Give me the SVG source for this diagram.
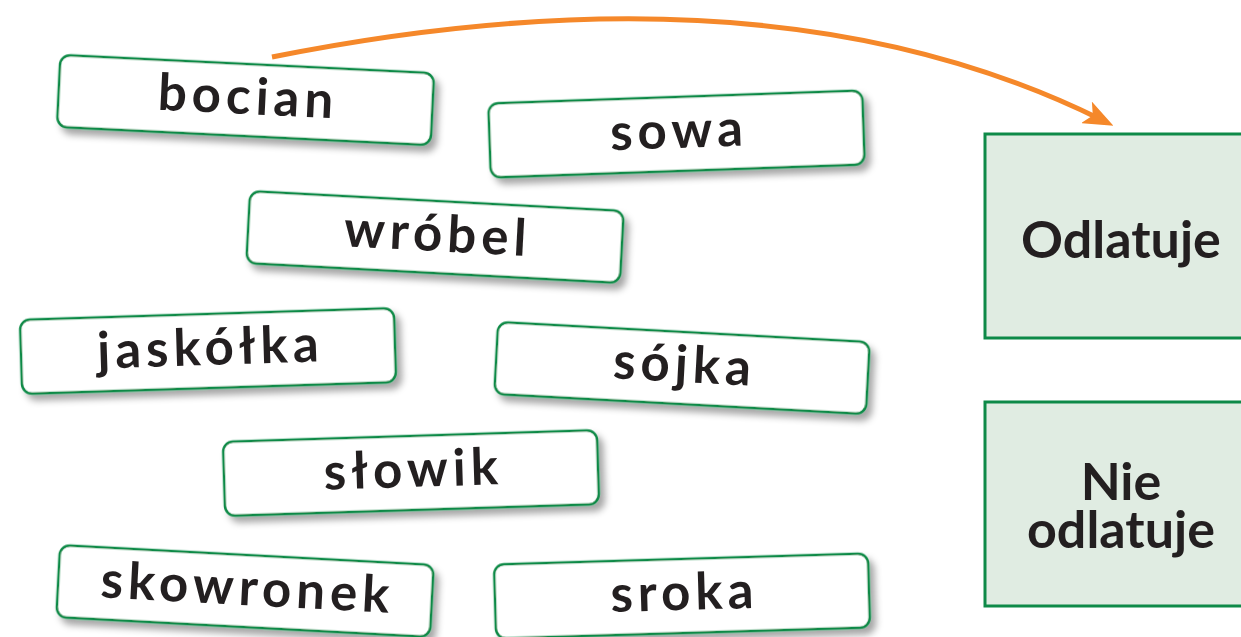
<svg xmlns="http://www.w3.org/2000/svg" width="1241" height="637" viewBox="0 0 1241 637">
  <defs>
    <filter id="shadow" x="-10%" y="-30%" width="125%" height="180%">
      <feDropShadow dx="5" dy="6" stdDeviation="3.5" flood-color="#000" flood-opacity="0.35"/>
    </filter>
    <marker id="arrow" viewBox="0 0 30 24" refX="15" refY="12" markerWidth="30" markerHeight="24" markerUnits="userSpaceOnUse" orient="auto">
      <path d="M30,12 L0,0 L7,12 L0,24 Z" fill="#f5882a"/>
    </marker>
    <style>
      .card rect { fill: #ffffff; stroke: #108a46; stroke-width: 2.5; filter: url(#shadow); }
      .card text { font-family: Lato, "Noto Sans", sans-serif; font-weight: 700; font-size: 51px; letter-spacing: 5px; fill: #231f20; text-anchor: middle; }
      .box rect { fill: #e0ece2; stroke: #0e8a48; stroke-width: 3; }
      .box text { font-family: Lato, "Noto Sans", sans-serif; font-weight: 700; font-size: 52px; fill: #231f20; text-anchor: middle; }
    </style>
  </defs>

  <g id="connectors">
    <path d="M272,57 Q772,-43 1100,119" fill="none" stroke="#f5882a" stroke-width="5" marker-end="url(#arrow)"/>
  </g>

  <g id="card-bocian" class="card" transform="translate(245.5,100) rotate(2.8)">
    <rect x="-187" y="-36" width="374" height="72" rx="10"/>
    <text x="2.5" y="14">bocian</text>
  </g>
  <g id="card-sowa" class="card" transform="translate(676.5,134) rotate(-2)">
    <rect x="-187" y="-37" width="374" height="74" rx="10"/>
    <text x="2.5" y="14">sowa</text>
  </g>
  <g id="card-wrobel" class="card" transform="translate(435,237) rotate(3.05)">
    <rect x="-187" y="-36" width="374" height="72" rx="10"/>
    <text x="2.5" y="14">wróbel</text>
  </g>
  <g id="card-jaskolka" class="card" transform="translate(208,351) rotate(-1.8)">
    <rect x="-187" y="-37" width="374" height="74" rx="10"/>
    <text x="2.5" y="14">jaskółka</text>
  </g>
  <g id="card-sojka" class="card" transform="translate(682,368) rotate(3.1)">
    <rect x="-186" y="-36" width="372" height="72" rx="10"/>
    <text x="2.5" y="14">sójka</text>
  </g>
  <g id="card-slowik" class="card" transform="translate(411,473) rotate(-1.8)">
    <rect x="-187" y="-37" width="374" height="74" rx="10"/>
    <text x="2.5" y="14">słowik</text>
  </g>
  <g id="card-skowronek" class="card" transform="translate(245,591) rotate(3.05)">
    <rect x="-187" y="-36" width="374" height="72" rx="10"/>
    <text x="2.5" y="14">skowronek</text>
  </g>
  <g id="card-sroka" class="card" transform="translate(682,596) rotate(-1.7)">
    <rect x="-187" y="-37" width="374" height="74" rx="10"/>
    <text x="2.5" y="14">sroka</text>
  </g>

  <g id="box-odlatuje" class="box">
    <rect x="985" y="134" width="273" height="204"/>
    <text x="1121" y="258">Odlatuje</text>
  </g>
  <g id="box-nie-odlatuje" class="box">
    <rect x="985" y="402" width="273" height="204"/>
    <text x="1121" y="500">Nie</text>
    <text x="1121" y="548">odlatuje</text>
  </g>
</svg>
